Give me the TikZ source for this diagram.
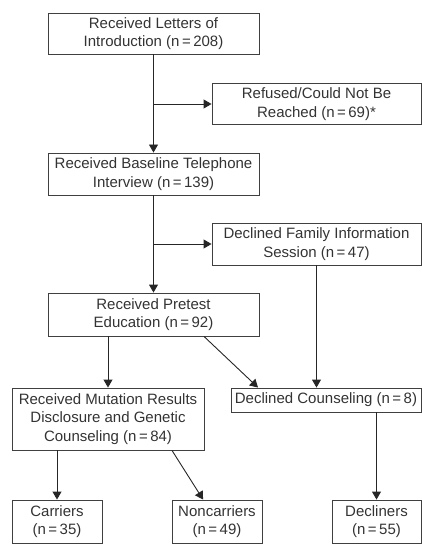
\documentclass[tikz,border=0pt]{standalone}
\usepackage{fontspec}
\setmainfont{Liberation Sans}
\usetikzlibrary{arrows.meta}

\begin{document}
\begin{tikzpicture}[x=1pt, y=-1pt,
    stage/.style ={draw=black!75, line width=0.9pt, align=center, inner sep=0pt,
      text=black!80, font=\fontsize{15}{18.5}\selectfont},
    flow/.style ={draw=black!85, line width=0.9pt, -{Triangle[length=8pt, width=9pt]}}]
   \useasboundingbox (0,0) rectangle (422,548);
   \node[stage, minimum width=211, minimum height=41] (intro) at (153.5,33.5)
     {Received Letters of\\Introduction (n\,=\,208)};
   \node[stage, minimum width=209, minimum height=41] (refused) at (316.5,104)
     {Refused/Could Not Be\\Reached (n\,=\,69)*};
   \node[stage, minimum width=211, minimum height=42] (baseline) at (153.5,174)
     {Received Baseline Telephone\\Interview (n\,=\,139)};
   \node[stage, minimum width=209, minimum height=42] (family) at (316.5,244)
     {Declined Family Information\\Session (n\,=\,47)};
   \node[stage, minimum width=211, minimum height=43] (pretest) at (153.5,314.5)
     {Received Pretest\\Education (n\,=\,92)};
   \node[stage, minimum width=192, minimum height=62] (mutation) at (108,419)
     {Received Mutation Results\\Disclosure and Genetic\\Counseling (n\,=\,84)};
   \node[stage, minimum width=190, minimum height=24] (declcoun) at (326,400)
     {Declined Counseling (n\,=\,8)};
   \node[stage, minimum width=90, minimum height=43] (carriers) at (57,521.5)
     {Carriers\\(n\,=\,35)};
   \node[stage, minimum width=90, minimum height=43] (noncarriers) at (217,521.5)
     {Noncarriers\\(n\,=\,49)};
   \node[stage, minimum width=89, minimum height=43] (decliners) at (376.5,521.5)
     {Decliners\\(n\,=\,55)};
   % branch points
   \coordinate (split1) at (intro.south |- refused.west);
   \coordinate (split2) at (baseline.south |- family.west);
   \coordinate (fam-in) at (family.south |- declcoun.north);
   \coordinate (pre-out) at (mutation.north |- pretest.south);
   \coordinate (pre-diag) at ([xshift=50.5pt]pretest.south);
   \coordinate (dc-in) at ([xshift=-68pt]declcoun.north);
   \coordinate (mut-out) at (carriers.north |- mutation.south);
   \coordinate (mut-diag) at ([xshift=64pt]mutation.south);
   \coordinate (dc-out) at (decliners.north |- declcoun.south);
   \draw[flow] (intro) to (baseline);
   \draw[flow] (split1) to (refused);
   \draw[flow] (baseline) to (pretest);
   \draw[flow] (split2) to (family);
   \draw[flow] (family) to (fam-in);
   \draw[flow] (pre-out) to (mutation);
   \draw[flow] (pre-diag) to (dc-in);
   \draw[flow] (mut-out) to (carriers);
   \draw[flow] (mut-diag) to (noncarriers);
   \draw[flow] (dc-out) to (decliners);
 \end{tikzpicture}
\end{document}
